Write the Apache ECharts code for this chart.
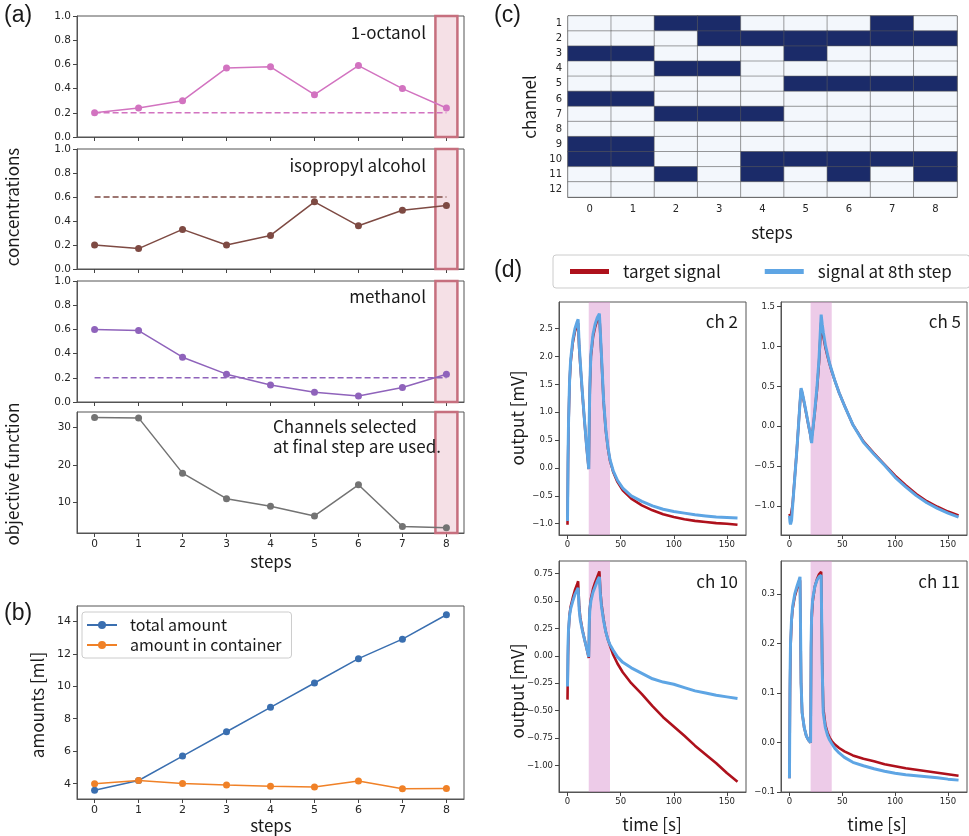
<!DOCTYPE html>
<html><head><meta charset="utf-8">
<script src="https://cdn.jsdelivr.net/npm/echarts@6/dist/echarts.min.js"></script>
<style>html,body{margin:0;padding:0;background:#fff}#chart{width:969px;height:836px}</style>
</head><body><div id="chart"></div>
<script>
// ---------- data ----------
const steps = [0, 1, 2, 3, 4, 5, 6, 7, 8];
const stepLabels = ['0', '1', '2', '3', '4', '5', '6', '7', '8'];
const octanol = [0.20, 0.24, 0.30, 0.57, 0.58, 0.35, 0.59, 0.40, 0.24];
const octanolTarget = 0.2;
const isopropyl = [0.20, 0.17, 0.33, 0.20, 0.28, 0.56, 0.36, 0.49, 0.53];
const isopropylTarget = 0.6;
const methanol = [0.60, 0.59, 0.37, 0.23, 0.14, 0.08, 0.05, 0.12, 0.23];
const methanolTarget = 0.2;
const objective = [32.6, 32.5, 17.8, 11.0, 9.0, 6.4, 14.7, 3.6, 3.3];
const totalAmount = [3.6, 4.2, 5.7, 7.2, 8.7, 10.2, 11.7, 12.9, 14.4];
const containerAmount = [4.0, 4.2, 4.02, 3.92, 3.84, 3.80, 4.17, 3.69, 3.71];
const finalStepBand = [7.75, 8.25];

const channelLabels = ['1', '2', '3', '4', '5', '6', '7', '8', '9', '10', '11', '12'];
const selected = [
  [0,0,1,1,0,0,0,1,0],
  [0,0,0,1,1,1,1,1,1],
  [1,1,0,0,0,1,0,0,0],
  [0,0,1,1,0,0,0,0,0],
  [0,0,0,0,0,1,1,1,1],
  [1,1,0,0,0,0,0,0,0],
  [0,0,1,1,1,0,0,0,0],
  [0,0,0,0,0,0,0,0,0],
  [1,1,0,0,0,0,0,0,0],
  [1,1,0,0,1,1,1,1,1],
  [0,0,1,0,1,0,1,0,1],
  [0,0,0,0,0,0,0,0,0]
];

const injectionWindow = [20, 40];
const time = [0,0.5,1,2,3,5,7,9,10,11,12,14,16,18,20,20.5,21,22,24,26,28,30,31,32,34,36,38,40,43,47,52,60,70,80,90,100,110,120,130,140,150,160];
const ch2Target = [-1.02,0.1,0.8,1.55,1.9,2.25,2.45,2.56,2.6,2.15,1.87,1.33,0.84,0.37,-0.02,0.85,1.4,2.0,2.35,2.53,2.66,2.74,2.36,1.97,1.18,0.68,0.36,0.13,-0.07,-0.25,-0.4,-0.55,-0.67,-0.76,-0.83,-0.88,-0.92,-0.95,-0.97,-0.99,-1.0,-1.02];
const ch2Step8 = [-0.95,0.2,0.85,1.6,1.95,2.3,2.5,2.62,2.67,2.2,1.9,1.35,0.85,0.38,-0.02,0.9,1.45,2.05,2.4,2.58,2.7,2.77,2.4,2.0,1.2,0.7,0.38,0.15,-0.05,-0.22,-0.36,-0.5,-0.6,-0.68,-0.74,-0.78,-0.81,-0.84,-0.86,-0.88,-0.89,-0.90];
const ch5Target = [-1.10,-1.12,-1.14,-1.12,-0.98,-0.64,-0.3,0.1,0.3,0.46,0.42,0.29,0.15,0.01,-0.12,-0.17,-0.19,-0.06,0.18,0.45,0.8,1.3,1.22,1.13,0.99,0.88,0.78,0.69,0.57,0.42,0.26,0.02,-0.19,-0.34,-0.48,-0.62,-0.74,-0.85,-0.94,-1.01,-1.07,-1.12];
const ch5Step8 = [-1.12,-1.2,-1.23,-1.18,-1.0,-0.65,-0.3,0.1,0.3,0.48,0.43,0.3,0.16,0.02,-0.12,-0.18,-0.21,-0.06,0.2,0.48,0.85,1.4,1.28,1.18,1.02,0.9,0.79,0.7,0.57,0.42,0.26,0.02,-0.2,-0.35,-0.49,-0.64,-0.76,-0.87,-0.96,-1.03,-1.09,-1.14];
const ch10Target = [-0.40,0.0,0.22,0.38,0.45,0.53,0.6,0.65,0.68,0.45,0.35,0.24,0.15,0.07,-0.02,0.3,0.43,0.52,0.61,0.67,0.72,0.77,0.58,0.47,0.33,0.22,0.15,0.09,0.01,-0.07,-0.15,-0.25,-0.35,-0.46,-0.56,-0.645,-0.73,-0.82,-0.9,-0.98,-1.07,-1.15];
const ch10Step8 = [-0.28,0.1,0.25,0.37,0.43,0.5,0.56,0.6,0.62,0.42,0.33,0.23,0.15,0.07,-0.01,0.3,0.42,0.5,0.58,0.63,0.68,0.72,0.55,0.45,0.32,0.22,0.15,0.1,0.05,-0.01,-0.06,-0.11,-0.16,-0.21,-0.24,-0.26,-0.29,-0.32,-0.34,-0.36,-0.375,-0.39];
const ch11Target = [-0.072,0.1,0.19,0.245,0.27,0.295,0.31,0.322,0.328,0.12,0.06,0.03,0.013,0.005,0.0,0.19,0.25,0.285,0.315,0.33,0.34,0.345,0.16,0.07,0.035,0.02,0.01,0.003,-0.004,-0.011,-0.018,-0.026,-0.033,-0.038,-0.044,-0.048,-0.052,-0.055,-0.058,-0.061,-0.064,-0.067];
const ch11Step8 = [-0.072,0.12,0.2,0.25,0.275,0.3,0.315,0.328,0.335,0.12,0.06,0.03,0.013,0.005,0.0,0.2,0.26,0.29,0.315,0.328,0.335,0.338,0.15,0.06,0.03,0.015,0.005,-0.002,-0.012,-0.021,-0.03,-0.04,-0.047,-0.053,-0.058,-0.062,-0.065,-0.067,-0.069,-0.071,-0.074,-0.076];

const concTicks = [0, 0.2, 0.4, 0.6, 0.8, 1.0];
const objTicks = [10, 20, 30];
const amountTicks = [4, 6, 8, 10, 12, 14];
const timeTicks = [0, 50, 100, 150];
const ch2Ticks = [-1, -0.5, 0, 0.5, 1, 1.5, 2, 2.5];
const ch5Ticks = [-1, -0.5, 0, 0.5, 1, 1.5];
const ch10Ticks = [-1, -0.75, -0.5, -0.25, 0, 0.25, 0.5, 0.75];
const ch11Ticks = [-0.1, 0, 0.1, 0.2, 0.3];

// ---------- helpers ----------
const TICK_FONT = 'DejaVu Sans';
const LABEL_FONT = '"Noto Sans CJK JP", "Noto Sans", sans-serif';
const grids = [], xAxes = [], yAxes = [], series = [];
function addGrid(g) { grids.push(Object.assign({show: true, borderColor: '#555', borderWidth: 1, backgroundColor: 'transparent'}, g)); return grids.length - 1; }
function fixed(d) { return v => Number(v).toFixed(d).replace('-', '\u2212'); }
function valueAxis(gi, min, max, ticks, o) {
  o = o || {};
  return {
    type: 'value', gridIndex: gi, min: min, max: max,
    splitLine: {show: false},
    axisLine: {show: true, onZero: false, lineStyle: {color: '#555'}},
    axisTick: {show: true, length: 4, customValues: ticks, lineStyle: {color: '#444'}},
    axisLabel: {show: o.labels !== false, customValues: ticks, formatter: o.fmt || (v => String(v)),
      fontSize: o.fs || 11, fontFamily: TICK_FONT, color: '#262626', margin: o.margin || 7, hideOverlap: false}
  };
}
function pairs(xs, ys) { return xs.map((x, i) => [x, ys[i]]); }
const bandA = {silent: true, itemStyle: {color: 'rgba(225,160,178,0.33)', borderColor: '#c66f7e', borderWidth: 2.5},
  data: [[{xAxis: finalStepBand[0]}, {xAxis: finalStepBand[1]}]]};

// ---------- panel (a) ----------
const aGrids = [
  {top: 16, height: 121}, {top: 149, height: 120}, {top: 281, height: 121}, {top: 412, height: 121}
];
const aSeries = [
  {vals: octanol, target: octanolTarget, color: '#d273c0', ticks: concTicks, min: 0, max: 1, fmt: fixed(1)},
  {vals: isopropyl, target: isopropylTarget, color: '#7e4a43', ticks: concTicks, min: 0, max: 1, fmt: fixed(1)},
  {vals: methanol, target: methanolTarget, color: '#8f63bb', ticks: concTicks, min: 0, max: 1, fmt: fixed(1)},
  {vals: objective, target: null, color: '#737373', ticks: objTicks, min: 1.87, max: 34.07, fmt: v => String(v)}
];
aSeries.forEach((s, k) => {
  const gi = addGrid(Object.assign({left: 77, width: 387}, aGrids[k]));
  xAxes.push(valueAxis(gi, -0.4, 8.4, steps, {labels: k === 3, fs: 10.5, margin: 6}));
  yAxes.push(valueAxis(gi, s.min, s.max, s.ticks, {fmt: s.fmt, fs: 10.5, margin: 6}));
  const ai = xAxes.length - 1;
  series.push({type: 'line', xAxisIndex: ai, yAxisIndex: ai, data: pairs(steps, s.vals),
    symbol: 'circle', symbolSize: 7, lineStyle: {width: 1.5, color: s.color}, itemStyle: {color: s.color},
    markArea: bandA, z: 3});
  if (s.target !== null) {
    series.push({type: 'line', xAxisIndex: ai, yAxisIndex: ai,
      data: [[steps[0], s.target], [steps[steps.length - 1], s.target]],
      symbol: 'none', lineStyle: {width: 1.5, type: [6, 3], color: s.color}, z: 2});
  }
});

// ---------- panel (b) ----------
{
  const gi = addGrid({left: 77, width: 387, top: 606, height: 193});
  xAxes.push(valueAxis(gi, -0.4, 8.4, steps, {fs: 11, margin: 6}));
  yAxes.push(valueAxis(gi, 3.06, 14.94, amountTicks, {fs: 11, margin: 6}));
  const ai = xAxes.length - 1;
  series.push({name: 'total amount', type: 'line', xAxisIndex: ai, yAxisIndex: ai, data: pairs(steps, totalAmount),
    symbol: 'circle', symbolSize: 7, lineStyle: {width: 1.5, color: '#3a6fb0'}, itemStyle: {color: '#3a6fb0'}});
  series.push({name: 'amount in container', type: 'line', xAxisIndex: ai, yAxisIndex: ai, data: pairs(steps, containerAmount),
    symbol: 'circle', symbolSize: 7, lineStyle: {width: 1.5, color: '#f08127'}, itemStyle: {color: '#f08127'}});
}

// ---------- panel (c) ----------
let heatIndex;
{
  const gi = addGrid({left: 568, width: 389, top: 16, height: 181});
  xAxes.push({type: 'category', gridIndex: gi, data: stepLabels,
    axisLine: {lineStyle: {color: '#555'}}, axisTick: {alignWithLabel: true, length: 4, lineStyle: {color: '#444'}},
    axisLabel: {interval: 0, fontSize: 10, fontFamily: TICK_FONT, color: '#262626', margin: 7}, splitLine: {show: false}});
  yAxes.push({type: 'category', gridIndex: gi, data: channelLabels, inverse: true,
    axisLine: {lineStyle: {color: '#555'}}, axisTick: {alignWithLabel: true, length: 4, lineStyle: {color: '#444'}},
    axisLabel: {interval: 0, fontSize: 10, fontFamily: TICK_FONT, color: '#262626', margin: 6}, splitLine: {show: false}});
  const ai = xAxes.length - 1;
  const cells = [];
  selected.forEach((row, r) => row.forEach((v, c) => cells.push([c, r, v])));
  heatIndex = series.length;
  series.push({type: 'heatmap', xAxisIndex: ai, yAxisIndex: ai, data: cells,
    itemStyle: {borderColor: 'rgba(90,90,90,0.55)', borderWidth: 1}, emphasis: {disabled: true}});
}

// ---------- panel (d) ----------
const dPanels = [
  {grid: {left: 559, top: 302, width: 187, height: 233}, tgt: ch2Target, s8: ch2Step8, min: -1.203, max: 2.98, ticks: ch2Ticks, dec: 1},
  {grid: {left: 781, top: 302, width: 186, height: 233}, tgt: ch5Target, s8: ch5Step8, min: -1.364, max: 1.559, ticks: ch5Ticks, dec: 1},
  {grid: {left: 559, top: 561, width: 187, height: 231}, tgt: ch10Target, s8: ch10Step8, min: -1.243, max: 0.865, ticks: ch10Ticks, dec: 2},
  {grid: {left: 781, top: 561, width: 186, height: 231}, tgt: ch11Target, s8: ch11Step8, min: -0.1, max: 0.367, ticks: ch11Ticks, dec: 1}
];
dPanels.forEach(p => {
  const gi = addGrid(p.grid);
  xAxes.push(valueAxis(gi, -8, 168, timeTicks, {fs: 8.5, margin: 5}));
  yAxes.push(valueAxis(gi, p.min, p.max, p.ticks, {fmt: fixed(p.dec), fs: 8.5, margin: 6}));
  const ai = xAxes.length - 1;
  series.push({name: 'target signal', type: 'line', xAxisIndex: ai, yAxisIndex: ai, data: pairs(time, p.tgt),
    symbol: 'none', lineStyle: {width: 2.6, color: '#ae111c'}, itemStyle: {color: '#ae111c'}, z: 3,
    markArea: {silent: true, itemStyle: {color: 'rgba(214,140,204,0.45)'},
      data: [[{xAxis: injectionWindow[0]}, {xAxis: injectionWindow[1]}]]}});
  series.push({name: 'signal at 8th step', type: 'line', xAxisIndex: ai, yAxisIndex: ai, data: pairs(time, p.s8),
    symbol: 'none', lineStyle: {width: 3, color: '#5ea5e4'}, itemStyle: {color: '#5ea5e4'}, z: 4});
});

// ---------- texts ----------
function txt(text, x, y, size, align, rot, family, color) {
  return {type: 'text', x: x, y: y, rotation: rot || 0, silent: true, z: 100,
    style: {text: text, fill: color || '#1a1a1a', font: size + 'px ' + (family || LABEL_FONT),
      textAlign: align || 'center', textVerticalAlign: 'middle', align: align || 'center', verticalAlign: 'middle'}};
}
const R = Math.PI / 2;
const graphics = [
  txt('(a)', 4, 16, 23, 'left', 0, '"Liberation Sans", Arial, sans-serif'),
  txt('(b)', 4, 614, 23, 'left', 0, '"Liberation Sans", Arial, sans-serif'),
  txt('(c)', 494, 16, 23, 'left', 0, '"Liberation Sans", Arial, sans-serif'),
  txt('(d)', 494, 271, 23, 'left', 0, '"Liberation Sans", Arial, sans-serif'),
  txt('1-octanol', 426, 33, 17, 'right'),
  txt('isopropyl alcohol', 426, 166, 17, 'right'),
  txt('methanol', 426, 297, 17, 'right'),
  txt('Channels selected', 273, 427, 17, 'left'),
  txt('at final step are used.', 273, 447, 17, 'left'),
  txt('concentrations', 13, 207, 17, 'center', R),
  txt('objective function', 13, 474, 17, 'center', R),
  txt('steps', 271, 562, 17),
  txt('amounts [ml]', 38, 705, 17, 'center', R),
  txt('steps', 271, 826, 17),
  txt('channel', 530, 107, 17, 'center', R),
  txt('steps', 772, 233, 17),
  txt('ch 2', 738, 322, 17, 'right'),
  txt('ch 5', 961, 322, 17, 'right'),
  txt('ch 10', 738, 582, 17, 'right'),
  txt('ch 11', 960, 582, 17, 'right'),
  txt('output [mV]', 518, 418, 17, 'center', R),
  txt('output [mV]', 518, 691, 17, 'center', R),
  txt('time [s]', 652, 825, 17),
  txt('time [s]', 877, 825, 17)
];

const option = {
  animation: false,
  backgroundColor: '#ffffff',
  grid: grids, xAxis: xAxes, yAxis: yAxes, series: series,
  visualMap: [{type: 'piecewise', show: false, seriesIndex: heatIndex, dimension: 2,
    pieces: [{value: 0, color: '#f3f7fc'}, {value: 1, color: '#1b2b69'}]}],
  legend: [
    {data: ['total amount', 'amount in container'], orient: 'vertical', left: 82, top: 612,
      itemWidth: 30, itemHeight: 10, itemGap: 4, padding: [5, 10, 5, 4],
      borderColor: '#cccccc', borderWidth: 1, borderRadius: 3, backgroundColor: '#fff',
      textStyle: {fontSize: 16, fontFamily: LABEL_FONT, color: '#1a1a1a', padding: [0, 0, 0, 8]}},
    {data: [{name: 'target signal', icon: 'rect'}, {name: 'signal at 8th step', icon: 'rect'}],
      orient: 'horizontal', left: 553, top: 255, width: 600, itemWidth: 39, itemHeight: 5, itemGap: 44,
      padding: [8, 18, 8, 17], borderColor: '#cccccc', borderWidth: 1, borderRadius: 3, backgroundColor: '#fff',
      textStyle: {fontSize: 17, fontFamily: LABEL_FONT, color: '#1a1a1a', padding: [0, 0, 0, 9]}}
  ],
  graphic: graphics
};
const chart = echarts.init(document.getElementById('chart'), null, {renderer: 'canvas'});
chart.setOption(option);
</script></body></html>
